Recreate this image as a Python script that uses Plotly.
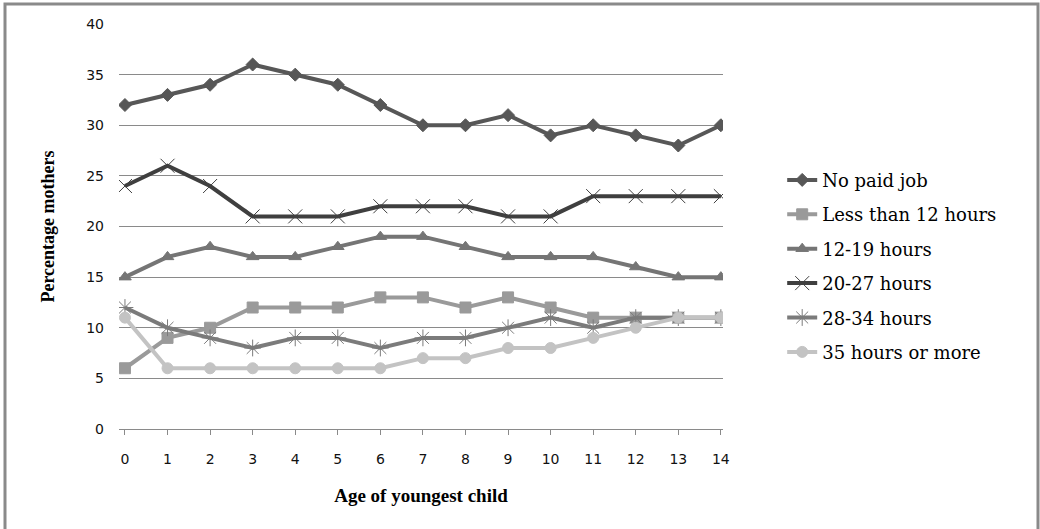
import plotly.graph_objects as go

ages = list(range(15))
age_labels = [str(a) for a in ages]

no_paid_job = [32, 33, 34, 36, 35, 34, 32, 30, 30, 31, 29, 30, 29, 28, 30]
less_than_12 = [6, 9, 10, 12, 12, 12, 13, 13, 12, 13, 12, 11, 11, 11, 11]
h12_19 = [15, 17, 18, 17, 17, 18, 19, 19, 18, 17, 17, 17, 16, 15, 15]
h20_27 = [24, 26, 24, 21, 21, 21, 22, 22, 22, 21, 21, 23, 23, 23, 23]
h28_34 = [12, 10, 9, 8, 9, 9, 8, 9, 9, 10, 11, 10, 11, 11, 11]
h35_plus = [11, 6, 6, 6, 6, 6, 6, 7, 7, 8, 8, 9, 10, 11, 11]

series_names = ["No paid job", "Less than 12 hours", "12-19 hours",
                "20-27 hours", "28-34 hours", "35 hours or more"]
series_values = [no_paid_job, less_than_12, h12_19, h20_27, h28_34, h35_plus]
colors = ["#575757", "#9a9a9a", "#757575", "#3f3f3f", "#7b7b7b", "#c3c3c3"]
symbols = ["diamond", "square", "triangle-up", "x-thin-open", "asterisk-open", "circle"]
msizes = [10, 11, 11, 14, 14, 11]

fig = go.Figure()
for name, vals, c, s, ms in zip(series_names, series_values, colors, symbols, msizes):
    fig.add_trace(go.Scatter(
        x=ages, y=vals, name=name, mode="lines+markers",
        line=dict(color=c, width=4),
        marker=dict(symbol=s, size=ms, color=c,
                    line=dict(color=c, width=1)),
        legendgroup=name,
    ))

fig.update_layout(
    width=1040, height=529,
    margin=dict(l=119, r=317, t=24, b=100),
    paper_bgcolor="white", plot_bgcolor="white",
    showlegend=True,
    legend=dict(
        x=1.098, y=0.66, xanchor="left", yanchor="top",
        font=dict(family="DejaVu Serif", size=18, color="black"),
        tracegroupgap=8, itemwidth=30,
        bgcolor="rgba(0,0,0,0)",
    ),
    xaxis=dict(
        range=[-0.14, 14.05],
        tickmode="array", tickvals=ages, ticktext=age_labels,
        showgrid=False, zeroline=False,
        showline=True, linecolor="#8a8a8a", linewidth=1,
        ticks="outside", ticklen=5, tickcolor="#8a8a8a",
        ticklabelstandoff=12,
        tickfont=dict(family="DejaVu Sans", size=14, color="#111"),
        title=dict(text="<b>Age of youngest child</b>",
                   font=dict(family="Liberation Serif", size=19, color="black"),
                   standoff=22),
    ),
    yaxis=dict(
        range=[0, 40], tickvals=[0, 5, 10, 15, 20, 25, 30, 35, 40],
        showgrid=True, gridcolor="#8a8a8a", gridwidth=1,
        zeroline=False, showline=False, ticks="",
        ticklabelstandoff=14,
        tickfont=dict(family="DejaVu Sans", size=14, color="#111"),
        title=dict(text="<b>Percentage mothers</b>",
                   font=dict(family="Liberation Serif", size=18, color="black"),
                   standoff=26),
    ),
)

# outer chart border
fig.add_shape(type="rect", xref="paper", yref="paper",
              x0=(5 - 119) / 604, x1=(1038 - 119) / 604,
              y0=(429 - 540) / 405, y1=(429 - 4) / 405,
              line=dict(color="#8a8a8a", width=3), fillcolor="rgba(0,0,0,0)",
              layer="below")

fig.write_html("out.html")
